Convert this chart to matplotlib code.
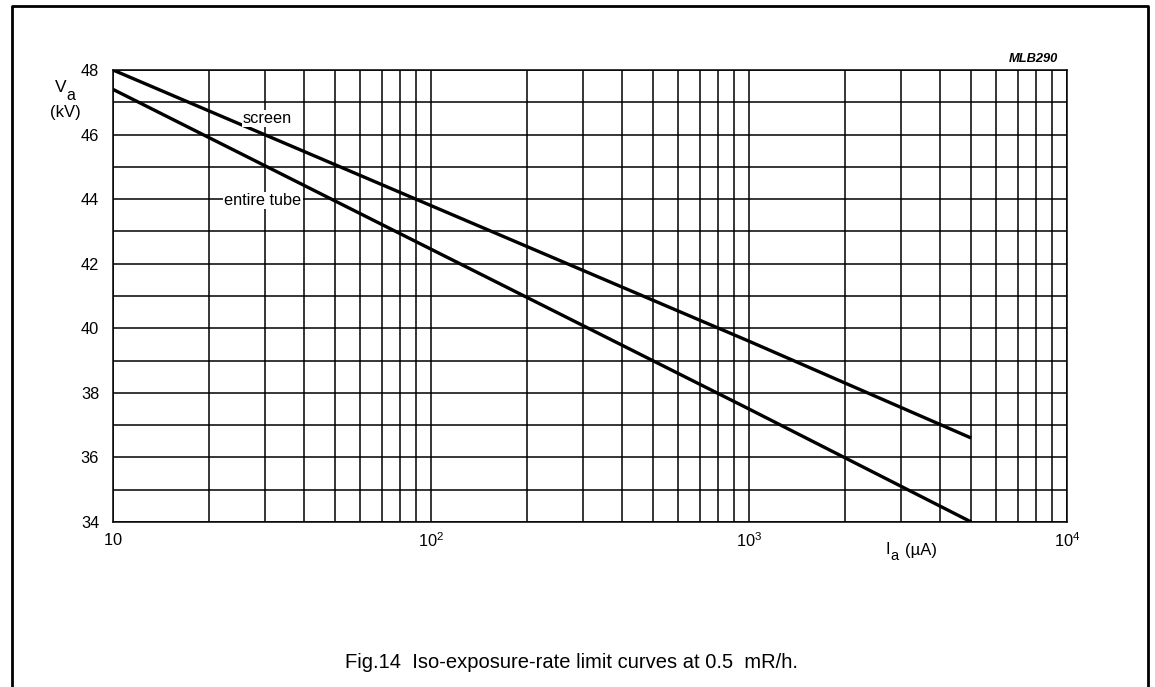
import numpy as np
import matplotlib
matplotlib.use("Agg")
import matplotlib.pyplot as plt
from matplotlib.lines import Line2D

plt.rcParams['font.family'] = ['Liberation Sans', 'DejaVu Sans']
plt.rcParams['mathtext.fontset'] = 'custom'
plt.rcParams['mathtext.rm'] = 'Liberation Sans'

# Iso-exposure-rate limit curves (anode current in uA, anode voltage in kV)
screen_I = [10, 100, 1000, 5000]
screen_V = [48.0, 43.8, 39.6, 36.6]
tube_I = [10, 100, 1000, 5000]
tube_V = [47.4, 42.45, 37.5, 34.0]

y_ticks = [34, 36, 38, 40, 42, 44, 46, 48]
x_ticks = [10, 100, 1000, 10000]
x_ticklabels = [r'$\mathregular{10}$', r'$\mathregular{10^2}$',
                r'$\mathregular{10^3}$', r'$\mathregular{10^4}$']

W, H = 1155, 687
fig = plt.figure(figsize=(W / 100, H / 100), dpi=100)

left, right, top, bottom = 113, 1067, 70, 522
ax = fig.add_axes([left / W, 1 - bottom / H, (right - left) / W, (bottom - top) / H])
ax.set_xscale('log')
ax.set_xlim(10, 10000)
ax.set_ylim(34, 48)

# grid: every integer kV, every 1..9 step within each decade
for v in range(34, 49):
    ax.axhline(v, color='black', lw=1.1, zorder=1)
for dec in [10, 100, 1000]:
    for m in range(1, 10):
        ax.axvline(dec * m, color='black', lw=1.1, zorder=1)
ax.axvline(10000, color='black', lw=1.1, zorder=1)

for s in ax.spines.values():
    s.set_linewidth(1.1)

ax.plot(screen_I, screen_V, color='black', lw=2.4, zorder=3, solid_capstyle='butt')
ax.plot(tube_I, tube_V, color='black', lw=2.4, zorder=3, solid_capstyle='butt')

ax.text(30.6, 46.5, 'screen', fontsize=11.7, ha='center', va='center', zorder=4,
        bbox=dict(facecolor='white', edgecolor='none', pad=0.8))
ax.text(29.6, 43.95, 'entire tube', fontsize=11.7, ha='center', va='center', zorder=4,
        bbox=dict(facecolor='white', edgecolor='none', pad=0.8))

ax.set_yticks(y_ticks)
ax.set_yticklabels([str(t) for t in y_ticks])
ax.set_xticks(x_ticks)
ax.set_xticklabels(x_ticklabels)
ax.xaxis.set_minor_locator(matplotlib.ticker.NullLocator())
ax.tick_params(axis='both', length=0, labelsize=11.8)
ax.tick_params(axis='y', pad=10)
ax.tick_params(axis='x', pad=7)

# axis titles placed in pixel coordinates of the figure
def px(x, y):
    return x / W, 1 - y / H

fig.text(*px(60.5, 88), 'V', fontsize=12.5, ha='center', va='center')
fig.text(*px(71, 95), 'a', fontsize=11.5, ha='center', va='center')
fig.text(*px(65, 113), '(kV)', fontsize=12, ha='center', va='center')
fig.text(*px(888, 549), 'I', fontsize=12, ha='center', va='center')
fig.text(*px(894.5, 556), 'a', fontsize=10.5, ha='center', va='center')
fig.text(*px(905, 551), '(µA)', fontsize=12, ha='left', va='center')
fig.text(*px(1058, 59), 'MLB290', fontsize=9.3, ha='right', va='center',
         style='italic', weight='bold')
fig.text(*px(345, 663), 'Fig.14  Iso-exposure-rate limit curves at 0.5  mR/h.',
         fontsize=14.5, ha='left', va='center')

# outer frame (open at the bottom)
x0, x1 = 12 / W, 1148 / W
yt = 1 - 6 / H
fig.add_artist(Line2D([x0, x0, x1, x1], [0, yt, yt, 0], color='black', lw=2.0,
                      transform=fig.transFigure))

fig.savefig('out.png', dpi=100, facecolor='white')
